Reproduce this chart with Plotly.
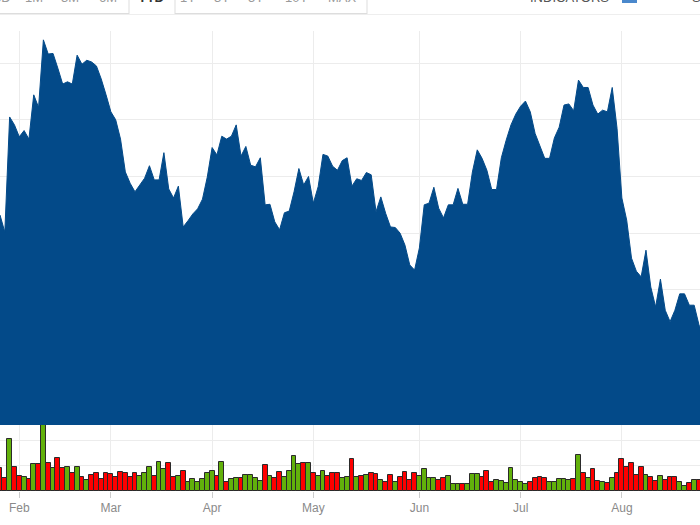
import pandas as pd
import plotly.graph_objects as go

# ---------------- data ----------------
holidays = ["2018-02-19", "2018-03-30", "2018-05-28", "2018-07-04"]
dates = [d for d in pd.bdate_range("2018-01-26", "2018-08-24")
         if d.strftime("%Y-%m-%d") not in holidays]

price = [53.2, 50.2, 70.5, 69.1, 67.0, 68.1, 66.6, 74.4, 72.2, 84.1,
         81.6, 81.7, 79.1, 76.3, 76.7, 76.3, 81.4, 79.8, 80.5, 80.2,
         79.5, 77.2, 74.4, 71.4, 70.0, 66.6, 60.8, 58.8, 57.3, 58.5,
         59.7, 61.9, 59.4, 59.4, 64.2, 57.8, 56.2, 58.3, 51.1, 52.2,
         53.4, 54.3, 56.0, 59.9, 65.1, 63.8, 67.1, 66.6, 67.1, 69.1,
         63.6, 65.3, 62.0, 61.7, 63.3, 55.0, 55.1, 52.0, 50.6, 53.6,
         53.9, 57.3, 61.4, 58.5, 60.0, 55.3, 58.2, 63.9, 63.6, 61.8,
         61.1, 62.8, 63.3, 58.3, 59.6, 59.3, 60.7, 60.3, 53.8, 56.4,
         53.5, 51.1, 51.0, 50.0, 47.9, 44.4, 43.5, 47.4, 55.0, 55.3,
         58.1, 54.4, 52.7, 55.0, 55.0, 57.9, 55.1, 55.1, 60.8, 64.7,
         63.2, 61.1, 57.7, 57.7, 63.3, 66.4, 69.1, 71.0, 72.4, 73.3,
         71.4, 67.6, 65.4, 63.2, 63.2, 66.8, 68.7, 72.6, 72.8, 71.6,
         77.0, 75.7, 75.7, 72.6, 71.0, 71.7, 71.4, 75.7, 68.5, 56.2,
         52.3, 45.6, 43.3, 42.3, 47.0, 40.5, 37.0, 41.9, 36.4, 34.4,
         36.4, 39.3, 39.3, 37.3, 37.3, 33.8, 32.0]

volume = [9.0, 5.0, 20.5, 9.4, 6.0, 5.4, 4.6, 10.7, 10.7, 26.2,
          11.2, 9.0, 13.0, 9.0, 9.4, 7.3, 9.4, 5.4, 4.4, 6.3,
          7.0, 4.6, 7.3, 6.6, 5.4, 7.7, 7.3, 5.4, 7.0, 6.0,
          7.0, 9.4, 6.0, 11.6, 8.6, 11.0, 5.4, 6.0, 8.1, 3.7,
          4.6, 3.7, 4.6, 7.0, 8.1, 6.0, 11.6, 3.7, 4.6, 5.0,
          5.0, 6.3, 6.3, 5.0, 4.0, 10.3, 6.0, 5.0, 7.7, 5.4,
          8.1, 13.9, 10.7, 11.2, 11.2, 7.3, 6.0, 8.1, 6.0, 7.3,
          7.3, 5.3, 5.4, 12.6, 5.4, 6.0, 6.3, 7.0, 6.7, 4.4,
          3.7, 6.3, 3.5, 5.4, 7.7, 4.4, 7.3, 6.0, 8.6, 5.0,
          5.0, 4.4, 5.0, 6.0, 2.7, 2.7, 2.7, 2.7, 6.7, 6.7,
          5.4, 8.1, 3.7, 4.4, 4.0, 3.1, 9.0, 4.4, 3.5, 2.7,
          3.7, 5.0, 5.4, 5.0, 3.5, 3.5, 4.6, 4.6, 4.4, 4.6,
          14.3, 7.3, 5.0, 8.6, 4.1, 3.7, 3.1, 5.0, 7.3, 12.7,
          9.4, 11.0, 6.3, 9.6, 6.3, 5.4, 4.0, 6.0, 4.4, 5.4,
          5.4, 3.5, 2.1, 3.1, 4.4, 4.4, 4.0]

direction = list("rrgrrgrgrg" "rgrrgrgrgr" "rrrrrrrrrg" "ggrggrrgrg"
                 "gggggrgrgg" "rggggrgrrg" "gggrgrggrr" "rggrgrgrrg"
                 "rrgrrrrggg" "grrgggrggg" "rrrggggggg" "rrrrgggggr"
                 "grgrrgrgrr" "rrrrgrrgrr" "rggrgrr")

tick_dates = ["2018-02-01", "2018-03-01", "2018-04-02", "2018-05-01",
              "2018-06-01", "2018-07-02", "2018-08-01"]
tick_text = ["Feb", "Mar", "Apr", "May", "Jun", "Jul", "Aug"]

range_buttons = ["5D", "1M", "3M", "6M", "YTD", "1Y", "3Y", "5Y", "10Y", "MAX"]

# ---------------- styles ----------------
BLUE = "#034a89"
UP = "#62b10b"
DOWN = "#ff0000"
GRID = "#ececec"
bar_colors = [UP if d == "g" else DOWN for d in direction]

W, H = 700, 525
TOP, BOTTOM = 31, 491          # plot area top / bottom (px)
SPLIT = 425                     # boundary between price and volume panes (px)
PH = BOTTOM - TOP
vol_top = (BOTTOM - SPLIT) / PH
TXT_Y = -2.7                    # toolbar text centre row (px, above the page)


def yp(px):
    """pixel row -> paper y"""
    return 1 + (TOP - px) / PH


def xp(px):
    return px / W


rb = [dict(bounds=["sat", "mon"]), dict(values=holidays)]

fig = go.Figure()
fig.add_trace(go.Scatter(
    x=dates, y=price, mode="lines", fill="tozeroy",
    line=dict(color=BLUE, width=1), fillcolor=BLUE,
    xaxis="x2", yaxis="y2", hoverinfo="skip"))
fig.add_trace(go.Bar(
    x=dates, y=volume,
    marker=dict(color=bar_colors, line=dict(color="#2a2a2a", width=1)),
    xaxis="x", yaxis="y", hoverinfo="skip"))

x_range = ["2018-01-26 00:00", "2018-08-23 05:00"]
fig.update_layout(
    width=W, height=H,
    margin=dict(l=0, r=0, t=TOP, b=H - BOTTOM, pad=0),
    paper_bgcolor="white", plot_bgcolor="white",
    showlegend=False, bargap=0,
    font=dict(family="Liberation Sans, Arial, sans-serif"),
    xaxis=dict(type="date", domain=[0, 1], anchor="y", range=x_range,
               rangebreaks=rb, tickvals=tick_dates, ticktext=tick_text,
               ticks="outside", ticklen=6, tickcolor="#cccccc",
               tickfont=dict(size=12, color="#8a8a8a"),
               showgrid=True, gridcolor=GRID, gridwidth=1,
               showline=False, zeroline=False),
    xaxis2=dict(type="date", domain=[0, 1], anchor="y2", matches="x",
                range=x_range, rangebreaks=rb, tickvals=tick_dates,
                showticklabels=False, ticks="",
                showgrid=True, gridcolor=GRID, gridwidth=1,
                showline=False, zeroline=False),
    yaxis=dict(domain=[0, vol_top], range=[0, 26.2], tick0=0, dtick=10,
               showticklabels=False, showgrid=True, gridcolor=GRID,
               zeroline=False, showline=False),
    yaxis2=dict(domain=[vol_top, 1], range=[16.17, 85.66], tick0=0, dtick=10,
                showticklabels=False, showgrid=True, gridcolor=GRID,
                zeroline=False, showline=False),
)

# ---------------- top toolbar (cropped by the page edge) ----------------
shapes = [
    dict(type="line", xref="paper", yref="paper", x0=0, x1=1,
         y0=yp(14.5), y1=yp(14.5), line=dict(color="#eeeeee", width=1)),
    dict(type="line", xref="paper", yref="paper", x0=0, x1=xp(129),
         y0=yp(13.5), y1=yp(13.5), line=dict(color="#dddddd", width=1)),
    dict(type="line", xref="paper", yref="paper", x0=xp(175), x1=xp(367),
         y0=yp(13.5), y1=yp(13.5), line=dict(color="#dddddd", width=1)),
    dict(type="line", xref="paper", yref="paper", x0=xp(129), x1=xp(129),
         y0=yp(-2), y1=yp(14), line=dict(color="#dddddd", width=1)),
    dict(type="line", xref="paper", yref="paper", x0=xp(175), x1=xp(175),
         y0=yp(-2), y1=yp(14), line=dict(color="#dddddd", width=1)),
    dict(type="line", xref="paper", yref="paper", x0=xp(367), x1=xp(367),
         y0=yp(-2), y1=yp(14), line=dict(color="#dddddd", width=1)),
    dict(type="rect", xref="paper", yref="paper", x0=xp(622), x1=xp(637),
         y0=yp(3), y1=yp(-12), line=dict(width=0), fillcolor="#4a88cc"),
]
fig.update_layout(shapes=shapes)

btn_x = [2, 34, 70, 108, 151, 188, 222, 256, 296, 342]
for label, bx in zip(range_buttons, btn_x):
    sel = label == "YTD"
    fig.add_annotation(
        x=xp(bx), y=yp(TXT_Y), xref="paper", yref="paper", showarrow=False,
        text=f"<b>{label}</b>" if sel else label, xanchor="center", yanchor="middle",
        font=dict(size=13, color="#333333" if sel else "#9a9a9a"))
fig.add_annotation(x=xp(569), y=yp(TXT_Y), xref="paper", yref="paper",
                   showarrow=False, text="INDICATORS", xanchor="center",
                   yanchor="middle", font=dict(size=13, color="#555555"))
fig.add_annotation(x=xp(690), y=yp(TXT_Y), xref="paper", yref="paper",
                   showarrow=False, text="SETTINGS", xanchor="left",
                   yanchor="middle", font=dict(size=13, color="#555555"))

fig.write_html("out.html")
